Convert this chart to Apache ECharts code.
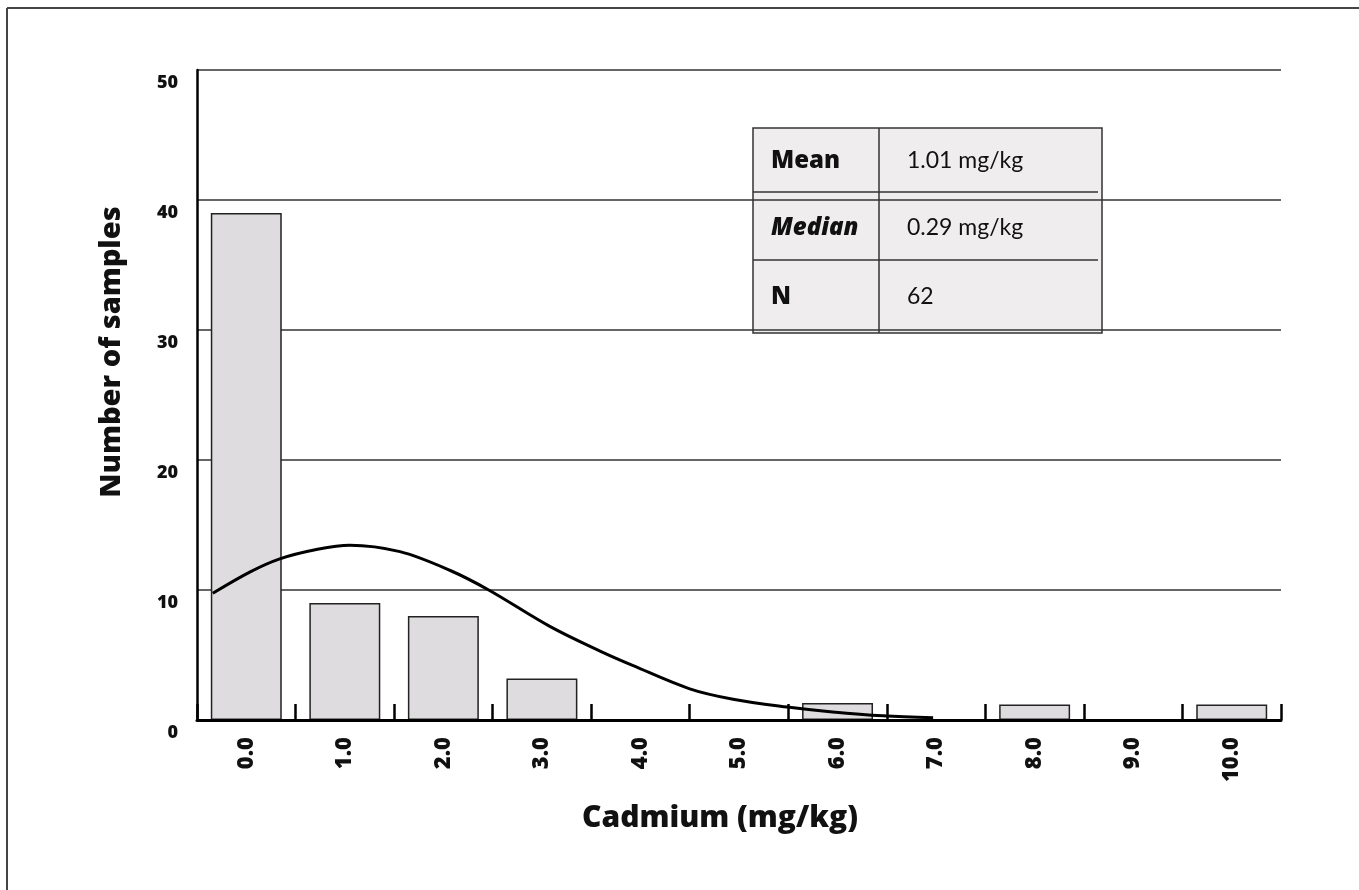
<!DOCTYPE html>
<html>
<head>
<meta charset="utf-8">
<script src="https://cdn.jsdelivr.net/npm/echarts@6/dist/echarts.min.js"></script>
<style>
html,body{margin:0;padding:0;background:#fff;}
#chart{width:1359px;height:890px;}
</style>
</head>
<body>
<div id="chart"></div>
<script>
// ---- data ----
var categories = ['0.0','1.0','2.0','3.0','4.0','5.0','6.0','7.0','8.0','9.0','10.0'];
var counts = [39, 9, 8, 3.2, 0, 0, 1.3, 0, 1.2, 0, 1.2];
var curveX = [-0.34, 0.04, 0.34, 0.70, 1.05, 1.56, 2.07, 2.46, 3.08, 3.59, 3.92, 4.50, 4.94, 5.49, 5.95, 6.46, 6.97];
var curveY = [9.75, 11.4, 12.4, 13.1, 13.45, 12.95, 11.5, 10.0, 7.2, 5.3, 4.2, 2.4, 1.6, 1.0, 0.62, 0.32, 0.18];
var statLabels = ['Mean', 'Median', 'N'];
var statValues = ['1.01 mg/kg', '0.29 mg/kg', '62'];
var yTitle = 'Number of samples';
var xTitle = 'Cadmium (mg/kg)';

var FONT = 'Lato, "Open Sans", sans-serif';
var BFONT = '"Open Sans", Lato, sans-serif';
var chart = echarts.init(document.getElementById('chart'), null, {renderer: 'canvas'});

var curveData = curveX.map(function (x, i) { return [x, curveY[i]]; });

// stats table graphic
var tblLeft = 753, tblTop = 128, tblW = 349, tblH = 205, colX = 879;
var rowTops = [128, 192, 260, 333];
var tableChildren = [
  {type: 'rect', shape: {x: tblLeft, y: tblTop, width: tblW, height: tblH},
   style: {fill: '#efedee', stroke: '#333', lineWidth: 1.5}},
  {type: 'line', shape: {x1: colX, y1: tblTop, x2: colX, y2: tblTop + tblH},
   style: {stroke: '#333', lineWidth: 1.5}},
  {type: 'line', shape: {x1: tblLeft, y1: rowTops[1], x2: 1098, y2: rowTops[1]},
   style: {stroke: '#333', lineWidth: 1.5}},
  {type: 'line', shape: {x1: tblLeft, y1: rowTops[2], x2: 1098, y2: rowTops[2]},
   style: {stroke: '#333', lineWidth: 1.5}}
];
var rowCenters = [161, 228, 297];
statLabels.forEach(function (lab, i) {
  tableChildren.push({type: 'text', x: 771, y: rowCenters[i], style: {
    text: lab, font: (i === 1 ? 'italic ' : '') + '800 24px ' + BFONT,
    fill: '#111', textVerticalAlign: 'middle', verticalAlign: 'middle'}});
  tableChildren.push({type: 'text', x: 907, y: rowCenters[i], style: {
    text: statValues[i], font: '23px ' + FONT,
    fill: '#111', textVerticalAlign: 'middle', verticalAlign: 'middle'}});
});

var option = {
  backgroundColor: '#fff',
  animation: false,
  grid: {left: 197, right: 78, top: 70, bottom: 170, containLabel: false},
  xAxis: [{
    type: 'category',
    data: categories,
    boundaryGap: true,
    axisLine: {show: true, onZero: false, lineStyle: {color: '#000', width: 3}},
    axisTick: {show: true, inside: true, length: 16, interval: 0, lineStyle: {color: '#000', width: 2.5}},
    axisLabel: {show: true, interval: 0, rotate: 90, margin: 17,
      fontFamily: BFONT, fontWeight: 800, fontSize: 22, color: '#111'},
    splitLine: {show: false},
    z: 5
  }, {
    type: 'value',
    min: -0.5, max: 10.5,
    show: false,
    position: 'bottom',
    axisLine: {onZero: false}
  }],
  yAxis: {
    type: 'value',
    min: 0, max: 50, interval: 10,
    axisLine: {show: true, onZero: false, lineStyle: {color: '#000', width: 2.5}},
    axisTick: {show: false},
    axisLabel: {show: true, margin: 19, verticalAlign: 'top', padding: [4, 0, 0, 0],
      fontFamily: BFONT, fontWeight: 800, fontSize: 18, color: '#111'},
    splitLine: {show: true, lineStyle: {color: '#333', width: 1.5}}
  },
  series: [{
    type: 'bar',
    data: counts,
    xAxisIndex: 0,
    barWidth: '72%',
    itemStyle: {color: '#dedcde', borderColor: '#222', borderWidth: 1.5},
    z: 2
  }, {
    type: 'line',
    data: curveData,
    xAxisIndex: 1,
    smooth: 0.35,
    symbol: 'none',
    lineStyle: {color: '#000', width: 3},
    z: 3
  }],
  graphic: [
    {type: 'line', shape: {x1: 7, y1: 8, x2: 1359, y2: 8}, style: {stroke: '#444', lineWidth: 2}},
    {type: 'line', shape: {x1: 7, y1: 8, x2: 7, y2: 890}, style: {stroke: '#444', lineWidth: 2}},
    {type: 'group', z: 10, children: tableChildren},
    {type: 'text', x: 720, y: 818, style: {text: xTitle, font: '800 30px ' + BFONT, fill: '#111',
      textAlign: 'center', textVerticalAlign: 'middle', align: 'center', verticalAlign: 'middle'}},
    {type: 'text', x: 112, y: 352, rotation: Math.PI / 2, style: {text: yTitle, font: '800 29px ' + BFONT, fill: '#111',
      textAlign: 'center', textVerticalAlign: 'middle', align: 'center', verticalAlign: 'middle'}}
  ]
};
chart.setOption(option);
</script>
</body>
</html>
